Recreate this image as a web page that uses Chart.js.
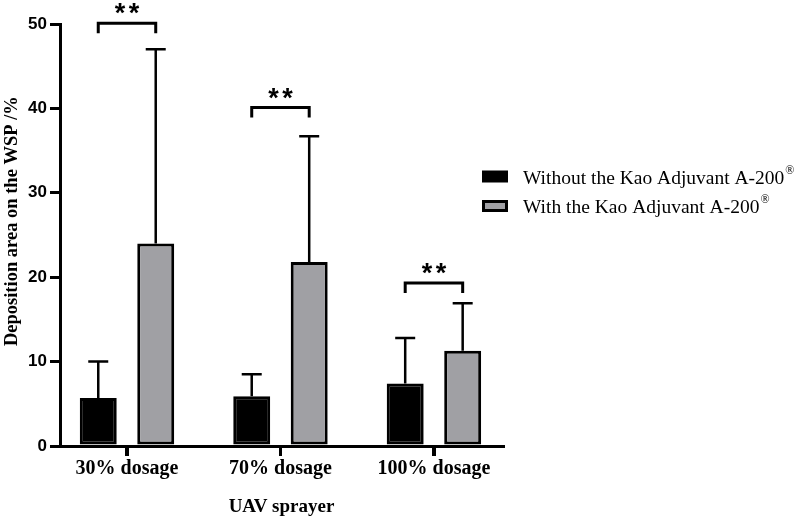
<!DOCTYPE html>
<html>
<head>
<meta charset="utf-8">
<script src="https://cdn.jsdelivr.net/npm/chart.js@4"></script>
<style>
  html, body { margin: 0; padding: 0; background: #fff; }
  #wrap { width: 798px; height: 522px; }
</style>
</head>
<body>
<div id="wrap"><canvas id="depChart" width="798" height="522"></canvas></div>
<script>
// Deposition data
const categories = ["30% dosage", "70% dosage", "100% dosage"];
const seriesNames = ["Without the Kao Adjuvant A-200", "With the Kao Adjuvant A-200"];
const meanWithout = [5.7, 5.9, 7.4];
const meanWith = [24.0, 21.8, 11.3];
const sdWithout = [4.3, 2.6, 5.4];
const sdWith = [23.0, 14.9, 5.6];
const yTicks = [0, 10, 20, 30, 40, 50];
// significance brackets (y level of bracket, label)
const sigLevel = [50.1, 40.1, 19.3];
const sigLabel = ["**", "**", "**"];

const BLACK = "#000000";
const GREY = "#a0a0a4";

// error bars (upper only) + significance brackets
const extrasPlugin = {
  id: "extras",
  afterDatasetsDraw(chart) {
    const ctx = chart.ctx;
    const y = chart.scales.y;
    const sds = [sdWithout, sdWith];
    const means = [meanWithout, meanWith];
    ctx.save();
    ctx.strokeStyle = BLACK;
    ctx.lineWidth = 2.5;
    for (let d = 0; d < 2; d++) {
      const meta = chart.getDatasetMeta(d);
      meta.data.forEach((bar, i) => {
        const top = y.getPixelForValue(means[d][i] + sds[d][i]);
        ctx.beginPath();
        ctx.moveTo(bar.x, bar.y);
        ctx.lineTo(bar.x, top);
        ctx.moveTo(bar.x - 10, top);
        ctx.lineTo(bar.x + 10, top);
        ctx.stroke();
      });
    }
    // brackets
    const m0 = chart.getDatasetMeta(0).data;
    const m1 = chart.getDatasetMeta(1).data;
    ctx.lineWidth = 3;
    ctx.lineJoin = "miter";
    ctx.fillStyle = BLACK;
    ctx.font = "bold 27px 'Liberation Sans', Arial, sans-serif";
    ctx.textAlign = "center";
    ctx.textBaseline = "alphabetic";
    for (let i = 0; i < categories.length; i++) {
      const by = y.getPixelForValue(sigLevel[i]);
      const x0 = m0[i].x, x1 = m1[i].x;
      ctx.beginPath();
      ctx.moveTo(x0, by + 10);
      ctx.lineTo(x0, by);
      ctx.lineTo(x1, by);
      ctx.lineTo(x1, by + 10);
      ctx.stroke();
      const cx = (x0 + x1) / 2;
      const stars = sigLabel[i].split("");
      stars.forEach((s, k) => {
        ctx.fillText(s, cx + (k - (stars.length - 1) / 2) * 14, by - 1);
      });
    }
    ctx.restore();
  },
  afterDraw(chart) {
    const ctx = chart.ctx;
    // category tick marks under the x axis
    const xs = chart.scales.x;
    const base = chart.chartArea.bottom;
    ctx.save();
    ctx.strokeStyle = BLACK;
    ctx.lineWidth = 3;
    categories.forEach((c, i) => {
      const px = Math.round(xs.getPixelForValue(i)) + 0.5;
      ctx.beginPath();
      ctx.moveTo(px, base);
      ctx.lineTo(px, base + 10);
      ctx.stroke();
    });
    // legend on the right
    const fills = [BLACK, GREY];
    const rows = [176.5, 206];
    for (let d = 0; d < 2; d++) {
      const cy = rows[d];
      ctx.fillStyle = BLACK;
      ctx.fillRect(482, cy - 6, 26, 12);
      if (d === 1) {
        ctx.fillStyle = fills[d];
        ctx.fillRect(485, cy - 3, 20, 6);
      }
      ctx.fillStyle = BLACK;
      ctx.font = "19.5px 'Liberation Serif', 'Times New Roman', serif";
      ctx.textAlign = "left";
      ctx.textBaseline = "middle";
      ctx.fillText(seriesNames[d], 523, cy + 2);
      const w = ctx.measureText(seriesNames[d]).width;
      ctx.font = "12px 'Liberation Serif', 'Times New Roman', serif";
      ctx.fillText("\u00AE", 523 + w + 1, cy - 6);
    }
    ctx.restore();
  }
};

new Chart(document.getElementById("depChart"), {
  type: "bar",
  data: {
    datasets: [
      {
        label: seriesNames[0],
        data: categories.map((c, i) => ({ x: i, y: meanWithout[i] })),
        backgroundColor: BLACK,
        borderColor: BLACK,
        borderWidth: 3,
        borderSkipped: false
      },
      {
        label: seriesNames[1],
        data: categories.map((c, i) => ({ x: i, y: meanWith[i] })),
        backgroundColor: GREY,
        borderColor: BLACK,
        borderWidth: 3,
        borderSkipped: false
      }
    ]
  },
  options: {
    responsive: false,
    animation: false,
    devicePixelRatio: 1,
    categoryPercentage: 0.749,
    barPercentage: 0.643,
    layout: { padding: { top: 24, right: 295, bottom: 0, left: 0 } },
    plugins: {
      legend: { display: false },
      tooltip: { enabled: false }
    },
    scales: {
      x: {
        type: "linear",
        min: -0.4365,
        max: 2.45,
        offset: false,
        afterBuildTicks: (scale) => {
          scale.ticks = categories.map((c, i) => ({ value: i }));
        },
        afterFit: (scale) => { scale.height = 76; },
        ticks: {
          color: BLACK,
          padding: 1,
          font: { family: "'Liberation Serif', 'Times New Roman', serif", size: 20, weight: "bold" },
          callback: (v) => categories[v]
        },
        grid: {
          display: true,
          offset: false,
          drawOnChartArea: false,
          tickLength: 10,
          tickWidth: 3,
          tickColor: BLACK,
          lineWidth: 3,
          color: BLACK
        },
        border: { display: true, color: BLACK, width: 3 },
        title: {
          display: true,
          text: "UAV sprayer",
          color: BLACK,
          padding: { top: 0, bottom: 4 },
          font: { family: "'Liberation Serif', 'Times New Roman', serif", size: 19, weight: "bold" }
        }
      },
      y: {
        min: 0,
        max: 50,
        afterBuildTicks: (scale) => {
          scale.ticks = yTicks.map((v) => ({ value: v }));
        },
        afterFit: (scale) => { scale.width = 60; },
        ticks: {
          color: BLACK,
          padding: 3,
          font: { family: "'Liberation Sans', Arial, sans-serif", size: 17, weight: "bold" }
        },
        grid: {
          display: true,
          drawOnChartArea: false,
          tickLength: 10,
          tickWidth: 3,
          tickColor: BLACK,
          lineWidth: 3,
          color: BLACK
        },
        border: { display: true, color: BLACK, width: 3 },
        title: {
          display: true,
          // leading spaces nudge the centred title up to where the original sits
          text: "      Deposition area on the WSP /%",
          color: BLACK,
          padding: { top: 1, bottom: 0 },
          font: { family: "'Liberation Serif', 'Times New Roman', serif", size: 18.5, weight: "bold" }
        }
      }
    }
  },
  plugins: [extrasPlugin]
});
</script>
</body>
</html>
